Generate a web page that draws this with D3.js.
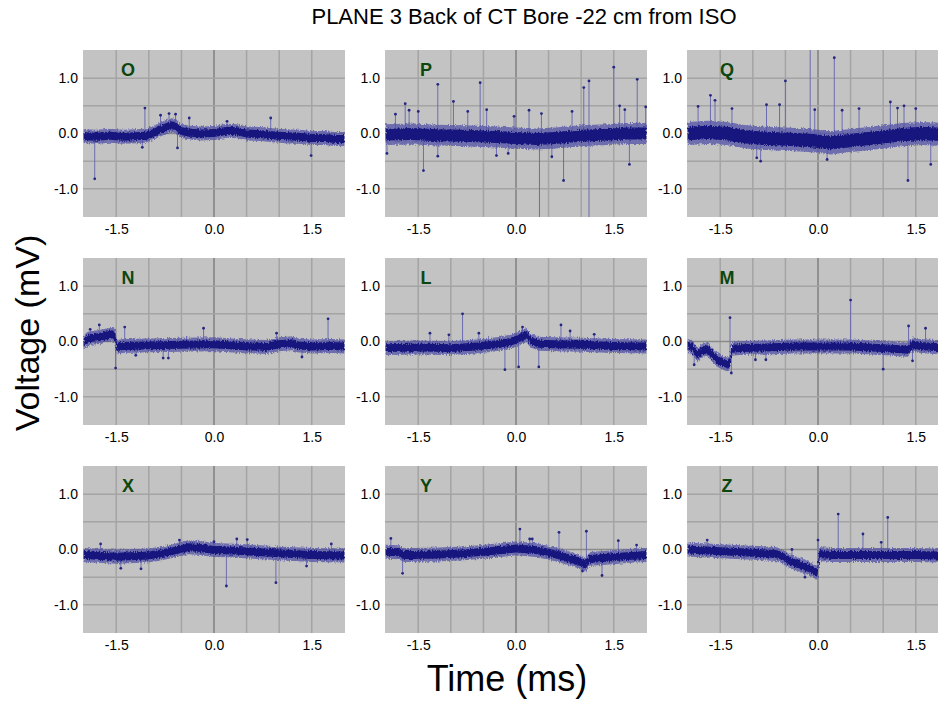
<!DOCTYPE html>
<html>
<head>
<meta charset="utf-8">
<script src="https://cdn.jsdelivr.net/npm/d3@7"></script>
<style>
  body { margin: 0; background: #fff; }
  svg { display: block; font-family: "Liberation Sans", Arial, sans-serif; }
</style>
</head>
<body>
<svg id="chart" width="938" height="702"></svg>
<script>

// panel order: row by row, as in the figure
var panelNames = ["O", "P", "Q", "N", "L", "M", "X", "Y", "Z"];

var xTicks = [-1.5, 0, 1.5];
var yTicks = [-1, 0, 1];
var xGrid = [-1.5, -1, -0.5, 0, 0.5, 1, 1.5];
var yGrid = [-1, -0.5, 0, 0.5, 1];

// trace centre line [time ms, voltage mV]
var traceO = [[-2.0,-0.05],[-1.8,-0.06],[-1.6,-0.04],[-1.4,-0.06],[-1.2,-0.05],[-1.05,-0.04],[-0.95,0.0],[-0.85,0.06],[-0.75,0.11],[-0.65,0.15],[-0.58,0.13],[-0.52,0.05],[-0.4,0.02],[-0.2,0.0],[0.0,0.01],[0.2,0.05],[0.35,0.04],[0.5,0.0],[0.7,-0.01],[0.9,-0.03],[1.1,-0.05],[1.3,-0.06],[1.5,-0.08],[1.7,-0.08],[1.85,-0.1],[2.0,-0.1]];
var traceP = [[-2.0,-0.02],[-1.6,-0.01],[-1.2,-0.03],[-0.8,-0.04],[-0.4,-0.06],[0.0,-0.08],[0.3,-0.1],[0.6,-0.08],[1.0,-0.04],[1.4,-0.02],[1.7,0.0],[2.0,0.0]];
var traceQ = [[-2.0,0.0],[-1.7,0.02],[-1.4,0.0],[-1.1,-0.06],[-0.8,-0.09],[-0.5,-0.1],[-0.2,-0.12],[0.0,-0.14],[0.2,-0.17],[0.4,-0.14],[0.7,-0.1],[1.0,-0.06],[1.3,-0.02],[1.6,0.0],[2.0,-0.02]];
var traceN = [[-2.0,-0.02],[-1.95,0.04],[-1.85,0.07],[-1.75,0.08],[-1.65,0.11],[-1.56,0.13],[-1.52,0.1],[-1.49,-0.1],[-1.4,-0.08],[-1.0,-0.07],[-0.5,-0.06],[0.0,-0.05],[0.4,-0.08],[0.8,-0.1],[1.0,-0.05],[1.2,-0.03],[1.28,-0.07],[1.5,-0.09],[1.8,-0.08],[2.0,-0.09]];
var traceL = [[-2.0,-0.12],[-1.5,-0.11],[-1.0,-0.12],[-0.6,-0.09],[-0.3,-0.05],[-0.1,-0.01],[0.0,0.03],[0.08,0.08],[0.17,0.12],[0.22,0.02],[0.35,-0.04],[0.6,-0.05],[1.0,-0.06],[1.5,-0.08],[2.0,-0.09]];
var traceM = [[-2.0,-0.08],[-1.93,-0.1],[-1.85,-0.24],[-1.78,-0.17],[-1.7,-0.14],[-1.62,-0.24],[-1.55,-0.33],[-1.45,-0.39],[-1.38,-0.42],[-1.35,-0.36],[-1.32,-0.13],[-1.2,-0.12],[-0.8,-0.11],[-0.4,-0.09],[0.0,-0.09],[0.5,-0.09],[1.0,-0.12],[1.25,-0.14],[1.38,-0.15],[1.45,-0.05],[1.55,-0.08],[1.8,-0.1],[2.0,-0.12]];
var traceX = [[-2.0,-0.1],[-1.5,-0.13],[-1.0,-0.11],[-0.8,-0.07],[-0.6,-0.02],[-0.4,0.04],[-0.25,0.03],[0.0,-0.01],[0.3,-0.02],[0.6,-0.04],[1.0,-0.07],[1.5,-0.1],[2.0,-0.11]];
var traceY = [[-2.0,-0.04],[-1.8,-0.05],[-1.72,-0.1],[-1.6,-0.1],[-1.2,-0.09],[-0.8,-0.07],[-0.4,-0.03],[0.0,0.02],[0.3,-0.01],[0.5,-0.06],[0.65,-0.1],[0.75,-0.14],[0.9,-0.19],[1.02,-0.25],[1.07,-0.28],[1.12,-0.17],[1.4,-0.15],[1.7,-0.12],[2.0,-0.1]];
var traceZ = [[-2.0,0.0],[-1.5,-0.03],[-1.0,-0.06],[-0.65,-0.08],[-0.55,-0.12],[-0.45,-0.2],[-0.3,-0.27],[-0.15,-0.33],[-0.05,-0.4],[-0.01,-0.42],[0.02,-0.08],[0.2,-0.1],[0.6,-0.1],[1.0,-0.1],[1.5,-0.1],[2.0,-0.11]];

// noise half-width of each trace band (mV)
var spread = [0.12, 0.18, 0.2, 0.12, 0.12, 0.12, 0.12, 0.12, 0.12];

// isolated spikes [time ms, peak mV]
var spikesO = [[-1.83,-0.82],[-1.06,0.46],[-0.82,0.33],[-0.69,0.36],[-0.59,0.35],[-0.56,-0.26],[-0.38,0.28],[0.87,0.28],[1.49,-0.4],[-1.1,-0.25],[0.2,0.22]];
var spikesP = [[-1.98,-0.36],[-1.7,0.54],[-1.64,0.42],[-1.5,0.4],[-1.42,-0.67],[-1.2,0.89],[-1.2,-0.41],[-0.96,0.58],[-0.74,0.4],[-0.55,0.92],[-0.45,0.43],[-0.12,-0.36],[-0.03,0.31],[0.2,0.42],[0.36,-1.6],[0.39,0.36],[0.73,-0.85],[0.86,0.4],[1.04,0.83],[1.12,0.95],[1.12,-1.6],[1.5,1.2],[1.59,0.5],[1.67,0.43],[1.74,-0.56],[1.86,0.98],[1.99,0.48],[-1.85,0.35],[-0.3,-0.4],[0.55,-0.42]];
var spikesQ = [[-1.84,0.49],[-1.65,0.69],[-1.58,0.6],[-1.32,0.45],[-0.94,-0.44],[-0.88,-0.5],[-0.79,0.52],[-0.59,0.52],[-0.5,0.95],[-0.12,1.6],[-0.05,0.43],[0.14,-0.47],[0.25,1.37],[0.37,0.42],[0.63,0.45],[1.11,0.57],[1.22,0.46],[1.32,0.5],[1.38,-0.85],[1.5,0.45],[1.73,-0.56],[1.9,0.4]];
var spikesN = [[-1.9,0.22],[-1.76,0.3],[-1.51,-0.48],[-1.37,0.26],[-1.2,-0.25],[-0.78,-0.3],[-0.7,-0.3],[-0.16,0.24],[0.96,0.15],[1.75,0.41],[1.35,-0.28]];
var spikesL = [[-1.32,0.15],[-1.03,0.12],[-0.82,0.5],[-0.57,0.15],[-0.17,-0.51],[0.04,-0.46],[0.1,0.26],[0.35,-0.46],[0.69,0.3],[0.83,0.19],[1.2,0.13]];
var spikesM = [[-1.9,-0.42],[-1.35,0.43],[-1.33,-0.57],[-0.96,-0.33],[-0.8,-0.33],[0.5,0.75],[1.0,-0.5],[1.39,0.28],[1.65,0.24],[1.45,-0.35]];
var spikesX = [[-1.74,0.1],[-1.43,-0.34],[-1.12,-0.35],[-0.53,0.17],[0.0,0.14],[0.19,-0.66],[0.35,0.19],[0.51,0.18],[0.95,-0.6],[1.42,-0.3],[1.8,0.1]];
var spikesY = [[-1.92,0.2],[-1.74,-0.43],[0.06,0.37],[0.21,0.19],[0.25,0.19],[0.66,0.31],[1.02,-0.39],[1.08,0.33],[1.32,-0.47],[1.57,0.16],[1.85,0.08]];
var spikesZ = [[-1.7,0.17],[-0.4,0.0],[0.0,0.17],[0.31,0.64],[0.69,0.28],[0.97,0.13],[1.07,0.58],[-0.2,-0.5]];

var traces = [traceO, traceP, traceQ, traceN, traceL, traceM, traceX, traceY, traceZ];
var spikes = [spikesO, spikesP, spikesQ, spikesN, spikesL, spikesM, spikesX, spikesY, spikesZ];

// layout
var panelW = 262, panelH = 167;
var colX = [83, 385, 687];
var rowY = [50, 258, 466];
var labelDx = [45, 41, 40];

var svg = d3.select("#chart");
svg.append("rect").attr("width", 938).attr("height", 702).attr("fill", "#fff");

var x = d3.scaleLinear().domain([-2.01, 2.01]).range([0, panelW]);
var y = d3.scaleLinear().domain([-1.51, 1.51]).range([panelH, 0]);

var fmt = function(d) { return d.toFixed(1); };

// centre of the trace at time t, used as the foot of a spike
function midAt(tr, t) {
  var i = d3.bisector(function(d) { return d[0]; }).left(tr, t);
  if (i <= 0) return tr[0][1];
  if (i >= tr.length) return tr[tr.length - 1][1];
  var a = tr[i - 1], b = tr[i];
  return a[1] + (t - a[0]) / (b[0] - a[0]) * (b[1] - a[1]);
}

function band(k) {
  return d3.area()
    .x(function(d) { return x(d[0]); })
    .y0(function(d) { return y(d[1] - k); })
    .y1(function(d) { return y(d[1] + k); });
}

var defs = svg.append("defs");
defs.append("clipPath").attr("id", "pclip")
  .append("rect").attr("width", panelW).attr("height", panelH);

// rough, speckled look for the dense noisy band
var rough = defs.append("filter").attr("id", "rough")
  .attr("x", "-5%").attr("y", "-50%").attr("width", "110%").attr("height", "200%");
rough.append("feTurbulence").attr("type", "fractalNoise")
  .attr("baseFrequency", "0.9 0.45").attr("numOctaves", 1).attr("seed", 3).attr("result", "n");
rough.append("feDisplacementMap").attr("in", "SourceGraphic").attr("in2", "n")
  .attr("scale", 5).attr("xChannelSelector", "R").attr("yChannelSelector", "G");

panelNames.forEach(function(name, i) {
  var col = i % 3, row = Math.floor(i / 3);
  var g = svg.append("g").attr("transform", "translate(" + colX[col] + "," + rowY[row] + ")");

  g.append("rect").attr("width", panelW).attr("height", panelH).attr("fill", "#c3c3c3");

  g.selectAll(".vg").data(xGrid).enter().append("line")
    .attr("x1", function(d) { return x(d); }).attr("x2", function(d) { return x(d); })
    .attr("y1", 0).attr("y2", panelH)
    .attr("stroke", function(d) { return d === 0 ? "#808080" : "#a4a4a4"; })
    .attr("stroke-width", 1.5);

  g.selectAll(".hg").data(yGrid).enter().append("line")
    .attr("y1", function(d) { return y(d); }).attr("y2", function(d) { return y(d); })
    .attr("x1", 0).attr("x2", panelW)
    .attr("stroke", function(d) { return d === 0 ? "#8a8a8a" : "#a4a4a4"; })
    .attr("stroke-width", 1.5);

  var plot = g.append("g").attr("clip-path", "url(#pclip)");
  var tr = traces[i], k = spread[i];

  plot.selectAll(".stem").data(spikes[i]).enter().append("line")
    .attr("x1", function(d) { return x(d[0]); }).attr("x2", function(d) { return x(d[0]); })
    .attr("y1", function(d) { return y(midAt(tr, d[0])); })
    .attr("y2", function(d) { return y(d[1]); })
    .attr("stroke", "#6c6cb0").attr("stroke-width", 1);

  var bands = plot.append("g").attr("filter", "url(#rough)");
  bands.append("path").datum(tr).attr("d", band(k * 1.05))
    .attr("fill", "#5252a8").attr("opacity", 0.75);
  bands.append("path").datum(tr).attr("d", band(k * 0.6))
    .attr("fill", "#16167e");

  plot.selectAll(".tip").data(spikes[i]).enter().append("circle")
    .attr("cx", function(d) { return x(d[0]); })
    .attr("cy", function(d) { return y(d[1]); })
    .attr("r", 1.4).attr("fill", "#262680");

  g.append("text")
    .attr("x", labelDx[col]).attr("y", 26)
    .attr("text-anchor", "middle")
    .style("font-size", "18px").style("font-weight", "bold")
    .attr("fill", "#0d470d")
    .text(name);

  var yAxis = g.append("g")
    .call(d3.axisLeft(y).tickValues(yTicks).tickFormat(fmt).tickSize(0).tickPadding(5));
  var xAxis = g.append("g").attr("transform", "translate(0," + panelH + ")")
    .call(d3.axisBottom(x).tickValues(xTicks).tickFormat(fmt).tickSize(0).tickPadding(7));
  [yAxis, xAxis].forEach(function(a) {
    a.select(".domain").remove();
    a.selectAll("text").style("font-size", "14px").attr("fill", "#000")
      .style("font-family", "\"Liberation Sans\", Arial, sans-serif");
  });
});

svg.append("text")
  .attr("x", 524).attr("y", 24)
  .attr("text-anchor", "middle")
  .style("font-size", "22px")
  .text("PLANE 3 Back of CT Bore -22 cm from ISO");

svg.append("text")
  .attr("transform", "translate(39,333) rotate(-90)")
  .attr("text-anchor", "middle")
  .style("font-size", "34px")
  .text("Voltage (mV)");

svg.append("text")
  .attr("x", 507).attr("y", 691)
  .attr("text-anchor", "middle")
  .style("font-size", "36px")
  .text("Time (ms)");

</script>
</body>
</html>
